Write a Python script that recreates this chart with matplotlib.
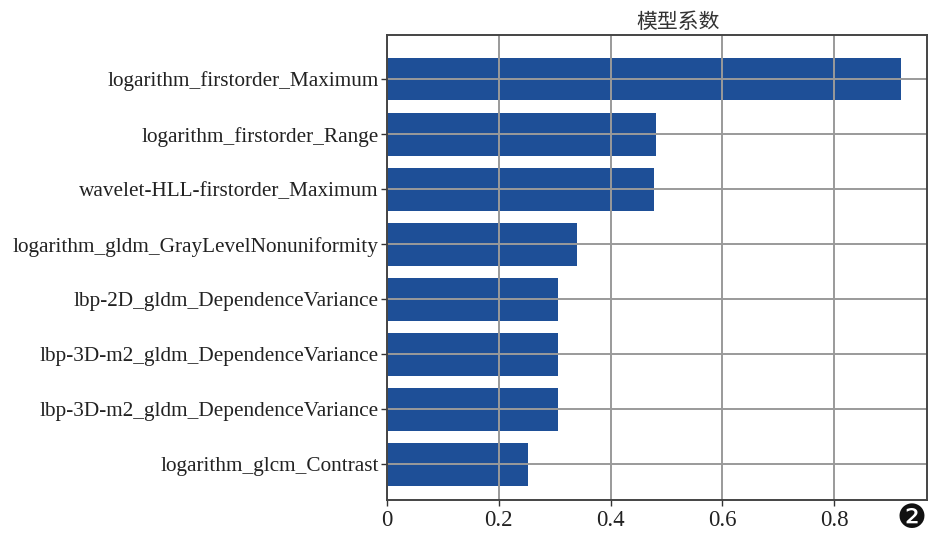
import matplotlib
matplotlib.use("Agg")
import matplotlib.pyplot as plt
import numpy as np

# 特征名称（从上到下）
features = [
    "logarithm_firstorder_Maximum",
    "logarithm_firstorder_Range",
    "wavelet-HLL-firstorder_Maximum",
    "logarithm_gldm_GrayLevelNonuniformity",
    "lbp-2D_gldm_DependenceVariance",
    "lbp-3D-m2_gldm_DependenceVariance",
    "lbp-3D-m2_gldm_DependenceVariance",
    "logarithm_glcm_Contrast",
]
coefs = [0.920, 0.481, 0.477, 0.340, 0.305, 0.305, 0.305, 0.253]

xticks = [0, 0.2, 0.4, 0.6, 0.8]
xtick_labels = ["0", "0.2", "0.4", "0.6", "0.8"]

titulo = "模型系数"
marca = "\u2777"

fig = plt.figure(figsize=(9.38, 5.37), dpi=100)
ax = fig.add_axes([0.4126, 0.0689, 0.5757, 0.8659])

pos = np.arange(len(features))
ax.barh(pos, coefs, height=0.78, color="#1e4f97", zorder=2)

ax.set_ylim(len(features) - 0.35, -0.8)
ax.set_xlim(0, 0.966)

ax.set_yticks(pos)
ax.set_yticklabels(features, family="Liberation Serif", fontsize=15.3, color="#222222")
ax.set_xticks(xticks)
ax.set_xticklabels(xtick_labels, family="Liberation Serif", fontsize=16.5, color="#222222")

ax.tick_params(axis="both", direction="out", length=4, width=1, color="#333333", pad=2)
ax.tick_params(axis="x", pad=3)

ax.grid(True, color="#9a9a9a", linewidth=1.4, zorder=3)
ax.set_axisbelow(False)

for s in ax.spines.values():
    s.set_color("#444444")
    s.set_linewidth(1.4)
    s.set_zorder(4)

ax.set_title(titulo, family=["Noto Sans CJK SC", "DejaVu Sans"], fontsize=15,
             color="#333333", x=0.54, pad=5)

fig.text(0.972, 0.034, marca, family="DejaVu Sans", fontsize=24,
         color="#111111", ha="center", va="center")

fig.savefig("out.png", dpi=100)
